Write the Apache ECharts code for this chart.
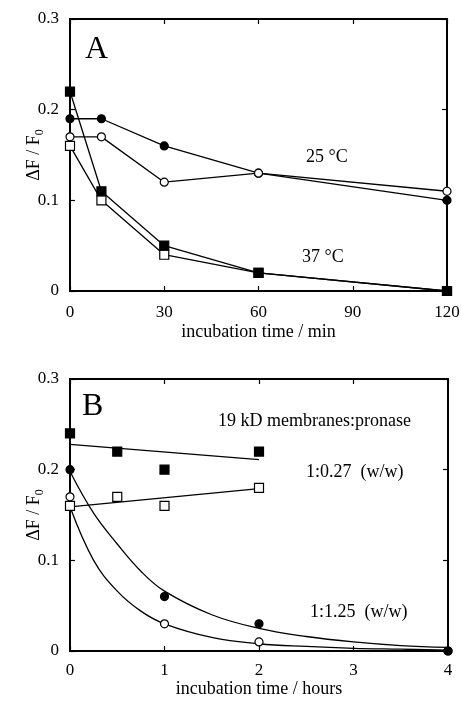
<!DOCTYPE html>
<html>
<head>
<meta charset="utf-8">
<script src="https://cdn.jsdelivr.net/npm/echarts@6.0.0/dist/echarts.min.js"></script>
<style>
  html, body { margin: 0; padding: 0; background: #fff; }
  #chart { width: 461px; height: 702px; }
</style>
</head>
<body>
<div id="chart"></div>
<script>
// panel A: incubation time (min) at 25 and 37 °C
var timeA = [0, 10, 30, 60, 120];
var a25Filled = [0.19, 0.19, 0.16, 0.13, 0.10];
var a25Open = [0.17, 0.17, 0.12, 0.13, 0.11];
var a37Filled = [0.22, 0.11, 0.05, 0.02, 0.0];
var a37Open = [0.16, 0.10, 0.04, 0.02, 0.0];

// panel B: incubation time (hours), two pronase ratios
var timeB = [0, 0.5, 1, 2];
var b027Filled = [0.24, 0.22, 0.20, 0.22];
var b027Open = [0.16, 0.17, 0.16, 0.18];
var timeBc = [0, 1, 2, 4];
var b125Filled = [0.20, 0.06, 0.03, 0.0];
var b125Open = [0.17, 0.03, 0.01, 0.0];

// fit lines
var fitLinT = [0, 2];
var fit027Filled = [0.228, 0.211];
var fit027Open = [0.159, 0.179];
var fitCurveT = [0, 0.25, 0.5, 0.75, 1, 1.5, 2, 2.5, 3, 3.5, 4];
var fit125Filled = [0.198, 0.152, 0.118, 0.088, 0.066, 0.040, 0.025, 0.016, 0.010, 0.006, 0.004];
var fit125Open = [0.159, 0.100, 0.066, 0.044, 0.030, 0.015, 0.008, 0.005, 0.003, 0.002, 0.001];

var yTicks = [0, 0.1, 0.2, 0.3];
var ticksA = [0, 30, 60, 90, 120];
var ticksB = [0, 1, 2, 3, 4];

var FONT = 'Liberation Serif';

function pairs(xs, ys) {
    return xs.map(function (x, i) { return [x, ys[i]]; });
}

function axisLine() {
    // onZero off, or the mirrored axes land on top of the main ones
    return { show: true, onZero: false, lineStyle: { color: '#000', width: 2 } };
}

function xAxisFor(grid, ticks, name, gap, margin, top) {
    return {
        type: 'value', gridIndex: grid, position: top ? 'top' : 'bottom',
        min: ticks[0], max: ticks[ticks.length - 1], interval: ticks[1] - ticks[0],
        axisLine: axisLine(),
        axisTick: { show: true, inside: true, length: 5, lineStyle: { color: '#000', width: 1.2 } },
        axisLabel: { show: !top, margin: margin, color: '#000', fontFamily: FONT, fontSize: 17 },
        splitLine: { show: false },
        name: top ? '' : name, nameLocation: 'middle', nameGap: gap, nameMoveOverlap: false,
        nameTextStyle: { color: '#000', fontFamily: FONT, fontSize: 18 }
    };
}

function yAxisFor(grid, right) {
    return {
        type: 'value', gridIndex: grid, position: right ? 'right' : 'left',
        min: yTicks[0], max: yTicks[yTicks.length - 1], interval: 0.1,
        axisLine: axisLine(),
        axisTick: { show: true, inside: true, length: 5, lineStyle: { color: '#000', width: 1.2 } },
        axisLabel: { show: !right, margin: 11, color: '#000', fontFamily: FONT, fontSize: 17,
            formatter: function (v) { return v === 0 ? '0' : v.toFixed(1); } },
        splitLine: { show: false },
        name: right ? '' : '{m|ΔF / F}{s|0}', nameLocation: 'middle', nameGap: 24,
        nameMoveOverlap: false,
        nameTextStyle: {
            color: '#000', fontFamily: FONT, fontSize: 18,
            rich: {
                m: { fontFamily: FONT, fontSize: 18, lineHeight: 24, color: '#000' },
                s: { fontFamily: FONT, fontSize: 12, lineHeight: 12, verticalAlign: 'bottom', color: '#000' }
            }
        }
    };
}

function marks(name, xi, yi, data, symbol, filled, size, showLine) {
    return {
        name: name, type: 'line', xAxisIndex: xi, yAxisIndex: yi, data: data,
        symbol: symbol, symbolSize: size, showSymbol: true,
        lineStyle: { color: '#000', width: showLine ? 1.3 : 0, opacity: showLine ? 1 : 0 },
        itemStyle: { color: filled ? '#000' : '#fff', borderColor: '#000', borderWidth: 1.2 },
        z: 3, animation: false
    };
}

function fit(xi, yi, data, smooth) {
    return {
        type: 'line', xAxisIndex: xi, yAxisIndex: yi, data: data, smooth: smooth,
        symbol: 'none', lineStyle: { color: '#000', width: 1.3 }, z: 2, animation: false
    };
}

function label(text, left, top, size) {
    return {
        type: 'text', left: left, top: top,
        style: { text: text, fill: '#000', font: size + 'px "' + FONT + '"' }
    };
}

var option = {
    backgroundColor: '#fff',
    animation: false,
    grid: [
        { left: 70, right: 14, top: 19, height: 272, outerBoundsMode: 'none' },
        { left: 70, right: 13, top: 379, height: 272, outerBoundsMode: 'none' }
    ],
    xAxis: [
        xAxisFor(0, ticksA, 'incubation time / min', 32, 13, false),
        xAxisFor(0, ticksA, '', 0, 0, true),
        xAxisFor(1, ticksB, 'incubation time / hours', 29, 11, false),
        xAxisFor(1, ticksB, '', 0, 0, true)
    ],
    yAxis: [
        yAxisFor(0, false),
        yAxisFor(0, true),
        yAxisFor(1, false),
        yAxisFor(1, true)
    ],
    graphic: [
        label('A', 85, 34, 32),
        label('25 °C', 306, 148, 18),
        label('37 °C', 302, 248, 18),
        label('B', 82, 391, 32),
        label('19 kD membranes:pronase', 218, 412, 18),
        label('1:0.27  (w/w)', 306, 463, 18),
        label('1:1.25  (w/w)', 310, 603, 18)
    ],
    series: [
        marks('25 filled', 0, 0, pairs(timeA, a25Filled), 'circle', true, 8, true),
        marks('25 open', 0, 0, pairs(timeA, a25Open), 'circle', false, 8, true),
        marks('37 open', 0, 0, pairs(timeA, a37Open), 'rect', false, 9, true),
        marks('37 filled', 0, 0, pairs(timeA, a37Filled), 'rect', true, 9, true),

        fit(2, 2, pairs(fitLinT, fit027Filled), false),
        fit(2, 2, pairs(fitLinT, fit027Open), false),
        fit(2, 2, pairs(fitCurveT, fit125Filled), 0.4),
        fit(2, 2, pairs(fitCurveT, fit125Open), 0.4),
        marks('0.27 open', 2, 2, pairs(timeB, b027Open), 'rect', false, 9, false),
        marks('0.27 filled', 2, 2, pairs(timeB, b027Filled), 'rect', true, 9, false),
        marks('1.25 open', 2, 2, pairs(timeBc, b125Open), 'circle', false, 8, false),
        marks('1.25 filled', 2, 2, pairs(timeBc, b125Filled), 'circle', true, 8, false)
    ]
};

var chart = echarts.init(document.getElementById('chart'), null, { renderer: 'canvas' });
chart.setOption(option);
</script>
</body>
</html>
